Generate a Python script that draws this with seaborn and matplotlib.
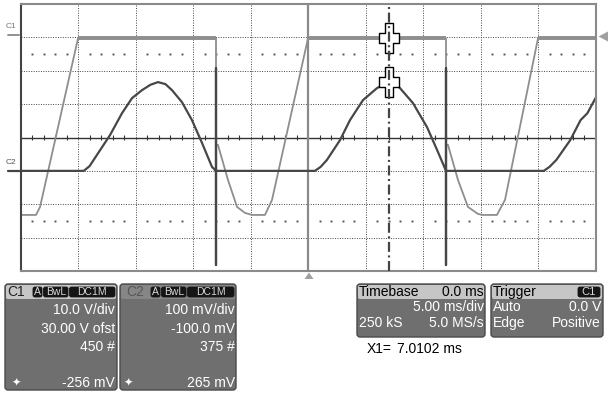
import numpy as np
import pandas as pd
import seaborn as sns
import matplotlib.pyplot as plt
from matplotlib.path import Path
from matplotlib.patches import FancyBboxPatch, Polygon

# Base de tiempo: 5 ms/div, 10 divisiones, disparo en el centro
t_div = 5.0
n_div_x = 10
n_div_y = 8

# Canal 1: 10 V/div, offset 30 V (valores en V)
c1_escala = 10.0
c1_ofst = 30.0
c1_t = [-25.0, -23.65, -23.3, -20.0, -8.0, -8.0, -7.83, -6.96, -6.17, -5.48, -4.87,
        -3.74, -3.13, 0.0, 12.0, 12.0, 12.17, 13.04, 13.91, 14.78, 15.2, 16.43,
        17.13, 20.0, 25.0]
c1_v = [-53.2, -53.2, -50.8, -0.3, -0.3, -32.2, -32.2, -42.7, -50.8, -52.6, -53.2,
        -53.2, -48.7, -0.3, -0.3, -32.2, -32.2, -42.7, -50.8, -52.9, -53.2, -53.2,
        -48.7, -0.3, -0.3]

# Canal 2: 100 mV/div, offset -100 mV (valores en mV)
c2_escala = 100.0
c2_ofst = -100.0
c2_t = [-25.0, -19.5, -19.0, -18.52, -17.22, -16.17, -15.3, -14.43, -13.7, -13.04,
        -12.4, -11.83, -10.96, -10.09, -9.22, -8.35, -8.0, -8.0, -8.0, -8.0, 0.6,
        1.1, 1.65, 2.78, 3.65, 4.78, 6.0, 6.6, 7.13, 7.6, 8.0, 9.13, 10.35, 11.22,
        12.0, 12.0, 12.0, 12.0, 20.5, 21.0, 21.6, 22.8, 23.7, 24.3, 25.0]
c2_v = [0, 0, 14, 39, 107, 173, 218, 242, 258, 266, 260, 242, 206, 152, 84, 12, 0,
        308, -282, 0, 0, 12, 33, 92, 152, 212, 248, 259, 263, 259, 248, 203, 131,
        63, 0, 308, -282, 0, 0, 12, 33, 92, 152, 173, 218]

# Cursor X1 y lecturas
x1_t = 7.0102
x1_c1 = -256.0  # mV
x1_c2 = 265.0   # mV

sns.set_style('white')
plt.rcParams['font.family'] = ['Liberation Sans', 'DejaVu Sans']

fig = plt.figure(figsize=(6.1, 3.93), dpi=100)

# capa en pixeles para paneles y marcas
capa = fig.add_axes([0, 0, 1, 1])
capa.set_xlim(0, 610)
capa.set_ylim(393, 0)
capa.axis('off')

ax = fig.add_axes([20.5 / 610, 1 - 271 / 393, 575 / 610, 267 / 393])
ax.set_xlim(-n_div_x / 2 * t_div, n_div_x / 2 * t_div)
ax.set_ylim(-n_div_y / 2, n_div_y / 2)
ax.set_xticks([])
ax.set_yticks([])
ax.patch.set_alpha(0)
for lado in ['top', 'right', 'bottom']:
    ax.spines[lado].set_color('#8a8a8a')
    ax.spines[lado].set_linewidth(1.5)
ax.spines['left'].set_color('#444444')
ax.spines['left'].set_linewidth(1.5)

# reticula
for k in range(1, n_div_x):
    t = -25 + k * t_div
    if t != 0:
        ax.axvline(t, color='#444444', lw=0.7, ls=(0, (1, 1.5)))
for k in range(1, n_div_y):
    y = -4 + k
    if y != 0:
        ax.axhline(y, color='#444444', lw=0.7, ls=(0, (1, 1.5)))
ax.axhline(0, color='#333333', lw=1.0)
ax.axvline(0, color='#8a8a8a', lw=1.6)
menores = [t for t in range(-25, 26) if t % 5 != 0]
ax.vlines(menores, -0.07, 0.07, color='#333333', lw=0.8)
for y in [2.5, -2.5]:
    ax.plot(menores, [y] * len(menores), ls='', marker='s', ms=1.4, mew=0, color='#555555')

# trazas
df1 = pd.DataFrame({'t': c1_t, 'div': (np.array(c1_v) + c1_ofst) / c1_escala})
df2 = pd.DataFrame({'t': c2_t, 'div': (np.array(c2_v) + c2_ofst) / c2_escala})
sns.lineplot(data=df1, x='t', y='div', ax=ax, sort=False, estimator=None,
             color='#8e8e8e', lw=1.3)
ax.plot(df1['t'], df1['div'].where(df1['div'] > 2.8), color='#8e8e8e', lw=2.8,
        solid_capstyle='butt')
sns.lineplot(data=df2, x='t', y='div', ax=ax, sort=False, estimator=None,
             color='#474747', lw=1.6)
for ln in ax.get_lines():
    ln.set_solid_joinstyle('round')
ax.set_xlabel('')
ax.set_ylabel('')

# cursor X1 con sus cruces
v = [(-3.5, 14.5), (3.5, 14.5), (3.5, 4.5), (9.5, 4.5), (9.5, -4.5), (3.5, -4.5),
     (3.5, -14.5), (-3.5, -14.5), (-3.5, -4.5), (-9.5, -4.5), (-9.5, 4.5), (-3.5, 4.5)]
cruz = Path(v + [v[0]], [Path.MOVETO] + [Path.LINETO] * 11 + [Path.CLOSEPOLY])
y_c1 = (x1_c1 / 1000 + c1_ofst) / c1_escala
y_c2 = (x1_c2 + c2_ofst) / c2_escala
ax.plot([x1_t, x1_t], [y_c1, y_c2], ls='', marker=cruz, ms=20.9, mfc='white',
        mec='black', mew=1.0, zorder=5, clip_on=False)
ax.axvline(x1_t, color='#444444', lw=1.6, ls=(0, (4.5, 1.6, 0.9, 1.6)), zorder=6)

# marcas de canal y de disparo
capa.text(11.5, 27, 'C1', fontsize=6, color='#777777', ha='center', va='center')
capa.plot([8, 19], [34.5, 34.5], color='#888888', lw=1.3)
capa.text(10.5, 162, 'C2', fontsize=6, color='#555555', ha='center', va='center')
capa.plot([8, 21], [171, 171], color='#444444', lw=1.6)
capa.add_patch(Polygon([(598.5, 36.5), (608, 31.5), (608, 41.5)], closed=True,
                       fc='#a0a0a0', ec='none'))
capa.add_patch(Polygon([(309, 272.5), (304.5, 279), (313.5, 279)], closed=True,
                       fc='#a0a0a0', ec='none'))

cuerpo = '#6f6f6f'
claro = '#c6c6c6'


def panel(x0, y0, x1, y1, color_cab):
    capa.add_patch(FancyBboxPatch((x0, y0), x1 - x0, y1 - y0,
                                  boxstyle='round,pad=0,rounding_size=3',
                                  fc=cuerpo, ec='#4a4a4a', lw=1))
    capa.add_patch(FancyBboxPatch((x0 + 1, y0 + 1), x1 - x0 - 2, 14,
                                  boxstyle='round,pad=0,rounding_size=2',
                                  fc=color_cab, ec='none'))


def insignia(x0, x1, texto, fs=7.5):
    capa.add_patch(FancyBboxPatch((x0, 287), x1 - x0, 10,
                                  boxstyle='round,pad=0,rounding_size=2',
                                  fc='#151515', ec='#151515', lw=0.6))
    capa.text((x0 + x1) / 2, 292.3, texto, fontsize=fs, color='#d8d8d8',
              ha='center', va='center')


fs = 10
# panel C1
panel(5, 284, 117, 390, claro)
capa.text(7, 292, 'C1', fontsize=fs, color='#222222', va='center')
insignia(33, 42, 'A')
insignia(43.5, 68, 'BwL')
insignia(69.5, 115, 'DC1M')
for y, txt in [(310, '10.0 V/div'), (329, '30.00 V ofst'), (347, '450 #'),
               (383, f'{x1_c1:.0f} mV')]:
    capa.text(115, y, txt, fontsize=fs, color='white', ha='right', va='center')
capa.text(16, 383, '✦', fontsize=8, color='white', ha='center', va='center',
          family=['DejaVu Sans'])

# panel C2
panel(120, 284, 236, 390, '#868686')
capa.text(126, 292, 'C2', fontsize=fs, color='#575757', va='center')
insignia(151, 160, 'A')
insignia(161.5, 186, 'BwL')
insignia(187.5, 234, 'DC1M')
for y, txt in [(310, '100 mV/div'), (329, '-100.0 mV'), (347, '375 #'),
               (383, f'{x1_c2:.0f} mV')]:
    capa.text(235, y, txt, fontsize=fs, color='white', ha='right', va='center')
capa.text(128, 383, '✦', fontsize=8, color='white', ha='center', va='center',
          family=['DejaVu Sans'])

# panel base de tiempo
panel(357, 284, 485, 337, claro)
capa.text(359, 292, 'Timebase', fontsize=fs, color='black', va='center')
capa.text(484, 292, '0.0 ms', fontsize=fs, color='black', ha='right', va='center')
capa.text(484, 307, f'{t_div:.2f} ms/div', fontsize=fs, color='white', ha='right', va='center')
capa.text(359, 323, '250 kS', fontsize=fs, color='white', va='center')
capa.text(484, 323, '5.0 MS/s', fontsize=fs, color='white', ha='right', va='center')

# panel de disparo
panel(491, 284, 603, 337, claro)
capa.text(493, 292, 'Trigger', fontsize=fs, color='black', va='center')
insignia(578, 600, 'C1', fs=8)
capa.text(493, 307, 'Auto', fontsize=fs, color='white', va='center')
capa.text(601, 307, '0.0 V', fontsize=fs, color='white', ha='right', va='center')
capa.text(493, 323, 'Edge', fontsize=fs, color='white', va='center')
capa.text(601, 323, 'Positive', fontsize=fs, color='white', ha='right', va='center')

capa.text(367, 349, 'X1=', fontsize=fs, color='black', va='center')
capa.text(397, 349, f'{x1_t:.4f} ms', fontsize=fs, color='black', va='center')

fig.savefig('out.png', dpi=100)
